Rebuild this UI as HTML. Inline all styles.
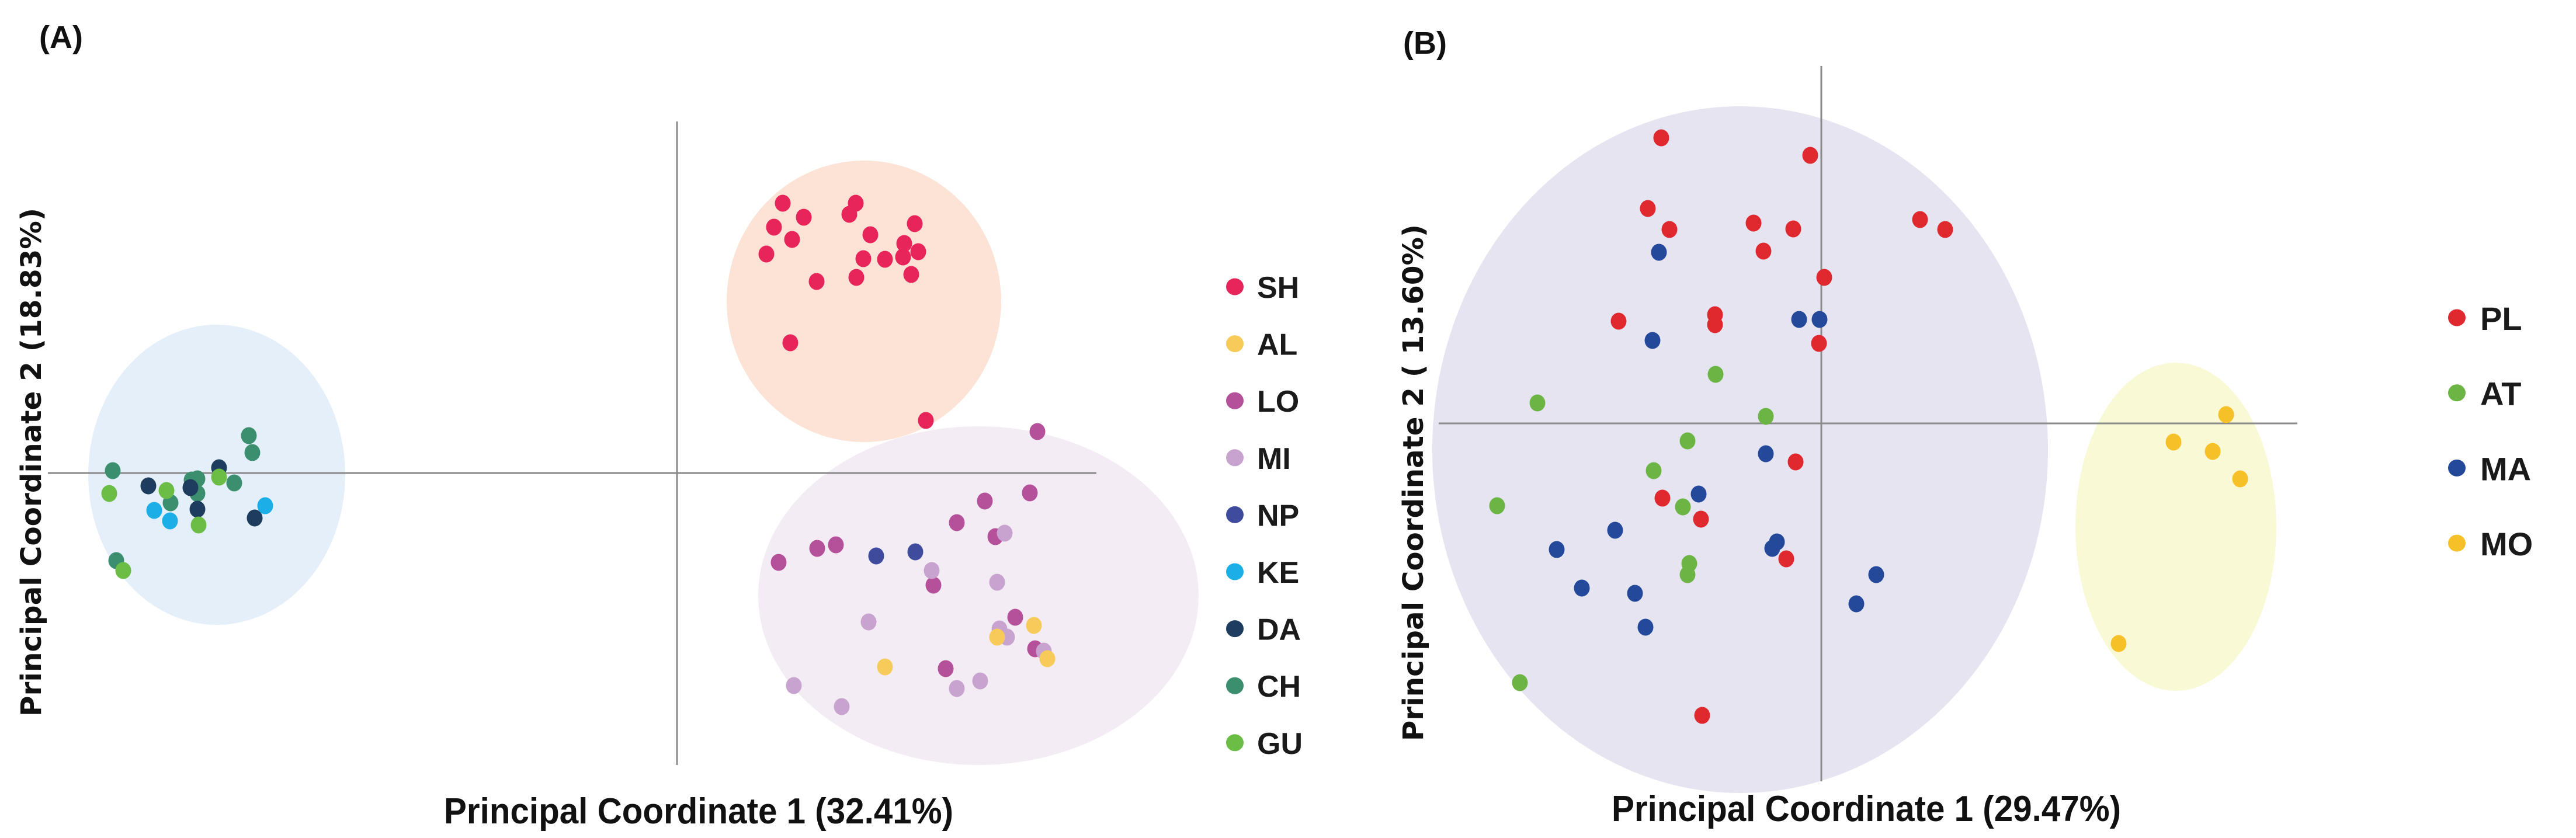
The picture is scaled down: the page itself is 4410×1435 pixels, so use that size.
<!DOCTYPE html>
<html><head><meta charset="utf-8">
<style>
html,body{margin:0;padding:0;background:#fff;}
svg{display:block;}
.lbl{font-family:"Liberation Sans Narrow","Liberation Sans",sans-serif;font-weight:bold;fill:#111;}
.leg{font-family:"Liberation Sans",sans-serif;font-weight:bold;fill:#1a1a1a;}
.yt{font-family:"DejaVu Sans","Liberation Sans",sans-serif;font-weight:bold;fill:#111;}
</style></head>
<body>
<svg id="chart" width="4410" height="1435" viewBox="0 0 4410 1435" xmlns="http://www.w3.org/2000/svg">
<g id="panelA"></g>
<g id="panelB"></g>
</svg>
<script>
// ===== Panel A data =====
const aGroups = ["SH","AL","LO","MI","NP","KE","DA","CH","GU"];
const aColors = ["#E8255A","#F7CB5A","#B5509A","#C9A3CF","#3F4C9E","#1CAEE6","#1E3D5E","#3B8F6E","#6CBD45"];
const aSH_x = [0.181,0.306,0.295,0.217,0.407,0.166,0.331,0.197,0.389,0.413,0.153,0.387,0.319,0.356,0.401,0.307,0.239,0.194,0.426];
const aSH_y = [0.462,0.462,0.443,0.438,0.427,0.421,0.408,0.400,0.393,0.379,0.375,0.370,0.367,0.366,0.340,0.335,0.328,0.223,0.090];
const aLO_x = [0.617,0.604,0.527,0.479,0.545,0.272,0.240,0.174,0.439,0.579,0.613,0.460];
const aLO_y = [0.071,-0.034,-0.048,-0.085,-0.109,-0.123,-0.129,-0.153,-0.192,-0.247,-0.301,-0.335];
const aMI_x = [0.561,0.436,0.548,0.328,0.552,0.565,0.628,0.519,0.479,0.200,0.282];
const aMI_y = [-0.103,-0.167,-0.187,-0.255,-0.267,-0.281,-0.305,-0.356,-0.369,-0.364,-0.400];
const aAL_x = [0.611,0.548,0.634,0.356];
const aAL_y = [-0.261,-0.281,-0.318,-0.332];
const aNP_x = [0.341,0.408];
const aNP_y = [-0.142,-0.135];
const aCH_x = [-0.733,-0.727,-0.966,-0.821,-0.758,-0.831,-0.821,-0.867,-0.960];
const aCH_y = [0.064,0.035,0.004,-0.010,-0.017,-0.012,-0.035,-0.051,-0.150];
const aDA_x = [-0.784,-0.905,-0.821,-0.723,-0.833];
const aDA_y = [0.009,-0.022,-0.062,-0.077,-0.025];
const aKE_x = [-0.705,-0.895,-0.868];
const aKE_y = [-0.056,-0.064,-0.082];
const aGU_x = [-0.972,-0.874,-0.784,-0.819,-0.948];
const aGU_y = [-0.035,-0.030,-0.007,-0.089,-0.167];

// ===== Panel B data =====
const bGroups = ["PL","AT","MA","MO"];
const bColors = ["#E0292E","#6CB545","#24499B","#F6C128"];
const bPL_x = [-0.274,-0.019,-0.297,-0.260,-0.116,-0.048,0.169,0.212,-0.099,0.005,-0.347,-0.182,-0.182,-0.004,-0.044,-0.272,-0.206,-0.060,-0.204];
const bPL_y = [0.489,0.459,0.368,0.332,0.343,0.333,0.349,0.332,0.295,0.250,0.175,0.186,0.169,0.137,-0.066,-0.128,-0.164,-0.232,-0.500];
const bMA_x = [-0.278,-0.038,-0.003,-0.289,-0.095,-0.210,-0.353,-0.076,-0.084,-0.453,0.094,-0.410,-0.319,0.060,-0.301];
const bMA_y = [0.293,0.178,0.178,0.142,-0.052,-0.121,-0.183,-0.203,-0.214,-0.216,-0.259,-0.282,-0.291,-0.309,-0.349];
const bAT_x = [-0.181,-0.486,-0.095,-0.229,-0.287,-0.555,-0.237,-0.226,-0.229,-0.516];
const bAT_y = [0.084,0.035,0.012,-0.030,-0.081,-0.141,-0.143,-0.240,-0.259,-0.444];
const bMO_x = [0.693,0.603,0.670,0.717,0.509];
const bMO_y = [0.015,-0.032,-0.048,-0.095,-0.377];

const NS = "http://www.w3.org/2000/svg";
function mk(parent, tag, attrs){
  const e = document.createElementNS(NS, tag);
  for (const k in attrs) e.setAttribute(k, attrs[k]);
  parent.appendChild(e);
  return e;
}
function scaleX(ox){ return v => ox + v*1000; }
function scaleY(oy){ return v => oy - v*1000; }

function ellipse(g, sx, sy, cx, cy, rx, ry, fill, name){
  const e = mk(g, "ellipse", {cx:sx(cx), cy:sy(cy), rx:rx*1000, ry:ry*1000, fill:fill});
  
  
}
function points(g, sx, sy, xs, ys, color, name){
  for (let i=0;i<xs.length;i++){
    const c = mk(g, "ellipse", {cx:sx(xs[i]), cy:sy(ys[i]), rx:13.5, ry:14.5, fill:color});
    
    
  }
}
function text(g, x, y, str, cls, size, extra, name){
  const t = mk(g, "text", Object.assign({x:x, y:y, class:cls, "font-size":size}, extra||{}));
  t.textContent = str;
  
  
  return t;
}

// ===== Panel A =====
(function(){
  const g = document.getElementById("panelA");
  const sx = scaleX(1159), sy = scaleY(810);
  ellipse(g, sx, sy, -0.788, -0.003, 0.220, 0.257, "#E4EFFA", "cluster-ellipse-left");
  ellipse(g, sx, sy, 0.320, 0.294, 0.235, 0.241, "#FCE3D6", "cluster-ellipse-sh");
  ellipse(g, sx, sy, 0.516, -0.210, 0.377, 0.290, "#F4ECF4", "cluster-ellipse-lo-mi");
  let l = mk(g, "line", {x1:sx(-1.077), x2:sx(0.718), y1:sy(0), y2:sy(0), stroke:"#8a8a8a", "stroke-width":3});
  
  
  l = mk(g, "line", {x1:sx(0), x2:sx(0), y1:sy(0.602), y2:sy(-0.500), stroke:"#8a8a8a", "stroke-width":3});
  
  
  const series = {SH:[aSH_x,aSH_y],LO:[aLO_x,aLO_y],MI:[aMI_x,aMI_y],AL:[aAL_x,aAL_y],NP:[aNP_x,aNP_y],
                  CH:[aCH_x,aCH_y],DA:[aDA_x,aDA_y],KE:[aKE_x,aKE_y],GU:[aGU_x,aGU_y]};
  ["SH","LO","MI","AL","NP","CH","DA","KE","GU"].forEach(k=>{
    points(g, sx, sy, series[k][0], series[k][1], aColors[aGroups.indexOf(k)], "point-"+k.toLowerCase());
  });
  aGroups.forEach((k,i)=>{
    const y = 491 + i*97.6;
    const c = mk(g, "ellipse", {cx:2114, cy:y, rx:15, ry:14.5, fill:aColors[i]});
    
    
    text(g, 2152, y+19, k, "leg", 52, {}, 'legend-label-'+k.toLowerCase());
  });
  text(g, 67, 82, "(A)", "lbl", 54, {}, 'panel-a-label');
  text(g, 760, 1410, "Principal Coordinate 1 (32.41%)", "lbl", 62, {textLength:872, lengthAdjust:"spacingAndGlyphs"}, 'x-axis-title-a');
  text(g, 0, 0, "Principal Coordinate 2 (18.83%)", "yt", 48, {textLength:871, lengthAdjust:"spacingAndGlyphs", transform:"translate(70,1227) rotate(-90)"}, 'y-axis-title-a');
})();

// ===== Panel B =====
(function(){
  const g = document.getElementById("panelB");
  const sx = scaleX(3118), sy = scaleY(725);
  ellipse(g, sx, sy, -0.139, -0.045, 0.527, 0.588, "#E5E4F0", "cluster-ellipse-pl-at-ma");
  ellipse(g, sx, sy, 0.607, -0.177, 0.172, 0.281, "#FAF9D6", "cluster-ellipse-mo");
  let l = mk(g, "line", {x1:sx(-0.655), x2:sx(0.815), y1:sy(0), y2:sy(0), stroke:"#8a8a8a", "stroke-width":3});
  
  
  l = mk(g, "line", {x1:sx(0), x2:sx(0), y1:sy(0.612), y2:sy(-0.613), stroke:"#8a8a8a", "stroke-width":3});
  
  
  points(g, sx, sy, bPL_x, bPL_y, bColors[0], "point-pl");
  points(g, sx, sy, bAT_x, bAT_y, bColors[1], "point-at");
  points(g, sx, sy, bMA_x, bMA_y, bColors[2], "point-ma");
  points(g, sx, sy, bMO_x, bMO_y, bColors[3], "point-mo");
  bGroups.forEach((k,i)=>{
    const y = 544 + i*128.7;
    const c = mk(g, "ellipse", {cx:4206, cy:y, rx:15, ry:14.5, fill:bColors[i]});
    
    
    text(g, 4246, y+21, k, "leg", 56, {}, 'legend-label-'+k.toLowerCase());
  });
  text(g, 2402, 92, "(B)", "lbl", 54, {}, 'panel-b-label');
  text(g, 2759, 1406, "Principal Coordinate 1 (29.47%)", "lbl", 62, {textLength:872, lengthAdjust:"spacingAndGlyphs"}, 'x-axis-title-b');
  text(g, 0, 0, "Principal Coordinate 2 ( 13.60%)", "yt", 48, {textLength:885, lengthAdjust:"spacingAndGlyphs", transform:"translate(2436,1269) rotate(-90)"}, 'y-axis-title-b');
})();
</script>
</body></html>
